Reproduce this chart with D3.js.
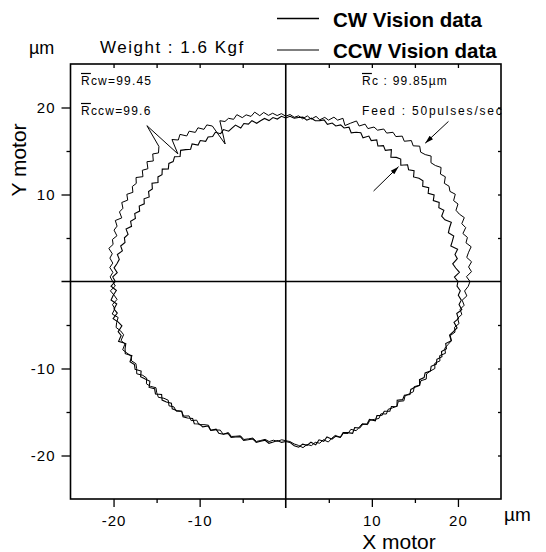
<!DOCTYPE html>
<html><head><meta charset="utf-8">
<script src="https://cdn.jsdelivr.net/npm/d3@7"></script>
<style>
body{margin:0;background:#fff}
svg{display:block}
text{font-family:"Liberation Sans",Arial,Helvetica,sans-serif;fill:#000}
</style>
</head><body>
<svg id="chart" width="546" height="552"></svg>
<script>
// ---------------- DATA ----------------
// radius samples (µm, deviation-scaled) read every 1.5° starting at +X axis, counter-clockwise
const angleStepDeg = 1.5;
const cwRadius = [
20.0,19.6,20.2,19.8,19.5,20.1,19.9,20.3,19.6,19.9,20.2,19.7,20.0,20.4,19.8,19.6,20.1,19.7,20.0,19.5,
19.9,19.4,19.8,19.3,19.7,19.5,19.1,19.6,19.2,19.5,18.9,19.4,19.2,18.8,19.5,19.0,19.3,18.9,19.4,19.0,
19.3,18.8,19.2,19.0,18.7,19.2,18.9,19.1,18.8,19.0,18.7,19.1,18.9,18.8,19.0,18.7,19.0,18.9,18.8,19.0,
18.8,19.0,18.7,18.9,18.6,18.9,18.7,18.5,18.9,18.6,18.8,18.4,18.9,18.7,18.5,18.9,18.6,19.0,18.7,18.9,
18.6,19.0,18.7,19.2,18.8,19.1,19.4,18.9,19.3,19.0,19.2,18.8,19.3,18.9,19.1,18.7,19.2,18.8,19.0,18.6,
19.0,18.7,19.1,18.8,19.2,18.9,19.3,19.0,19.5,19.1,19.4,19.2,19.6,19.3,19.8,19.5,19.7,20.0,19.6,20.1,
19.8,20.3,19.7,20.1,20.4,19.8,20.2,19.9,20.5,20.0,19.7,20.3,20.1,20.6,19.9,20.2,20.4,19.8,20.3,20.0,
20.2,19.7,20.1,19.8,19.5,20.0,19.6,19.9,19.4,19.8,19.6,19.3,19.7,19.5,19.2,19.6,19.4,19.1,19.5,19.2,
19.3,18.9,19.2,18.8,19.1,19.0,18.7,19.0,18.8,18.6,18.9,18.7,18.5,18.8,18.6,18.4,18.7,18.5,18.3,18.5,
18.4,18.5,18.9,19.1,18.8,19.0,18.7,19.1,18.6,18.9,18.5,18.9,18.7,19.0,18.6,18.8,19.1,18.6,18.9,18.7,
18.9,18.6,19.1,18.7,19.0,18.8,19.2,18.9,19.3,18.8,19.2,19.0,19.4,19.1,19.3,19.6,19.2,19.5,19.3,19.7,
19.5,19.9,19.7,20.1,19.8,20.2,19.9,20.4,20.0,20.3,20.6,20.1,20.5,20.2,20.7,20.3,20.5,20.1,20.3,19.9
];
const ccwRadius = [
21.4,21.0,21.6,21.3,21.7,21.2,21.5,21.9,21.4,21.7,21.3,21.8,21.5,22.0,21.6,21.4,21.9,21.6,22.1,21.7,
21.9,21.6,22.1,21.8,22.3,21.9,21.7,22.2,21.8,21.6,22.0,21.5,21.8,21.2,21.5,21.0,21.2,20.7,20.9,20.4,
20.5,20.0,20.3,19.8,20.2,19.7,19.2,19.9,19.5,19.7,19.2,19.4,19.0,19.3,18.9,19.2,18.8,19.1,18.9,19.2,
19.0,19.3,19.1,19.4,19.2,19.6,19.3,19.8,19.4,19.7,19.5,20.0,19.6,19.9,19.7,20.0,17.3,19.8,20.2,19.9,
20.4,20.1,20.6,20.3,20.9,20.5,21.0,19.3,24.1,21.4,20.9,21.3,20.7,21.2,20.6,21.0,20.5,21.1,20.7,20.9,
20.5,21.0,20.6,21.1,20.7,20.9,20.4,21.0,20.6,20.8,20.3,20.7,20.5,20.9,20.4,20.6,20.2,20.5,20.1,20.4,
20.1,19.8,20.4,20.0,19.7,20.3,20.1,20.5,19.9,20.2,20.4,20.0,19.8,20.3,20.0,20.5,20.2,19.9,20.1,19.8,
20.0,20.3,19.8,19.6,20.0,19.8,19.4,19.7,19.9,19.5,19.3,19.7,19.4,19.6,19.2,19.5,19.1,19.4,19.0,19.3,
19.0,18.8,19.2,18.9,18.7,19.0,18.6,18.9,18.7,18.5,18.8,18.6,18.4,18.7,18.5,18.3,18.5,18.3,18.4,18.2,
18.3,18.4,18.7,18.9,19.2,18.9,19.1,18.8,19.0,18.7,19.1,18.8,18.6,19.0,18.7,18.9,18.6,19.0,18.8,18.6,
19.0,18.7,18.9,19.1,18.8,19.2,18.9,19.1,19.3,19.0,19.4,19.1,19.3,19.5,19.2,19.6,19.4,19.8,19.5,19.7,
20.0,19.7,20.1,19.8,20.3,20.0,20.2,20.4,20.1,20.5,20.3,20.7,20.4,20.8,20.5,20.9,20.6,21.1,20.8,21.2
];
const xMajorTicks = [-20, -10, 10, 20];
const xMinorTicks = [-15, -5, 5, 15];
const yMajorTicks = [20, 10, -10, -20];
const yMinorTicks = [15, 5, -5, -15];
const legendLabels = ["CW Vision data", "CCW Vision data"];
const arrowNotes = [
  {from: [18.9, 18.4], to: [16.2, 15.9]},
  {from: [10.2, 10.4], to: [13.1, 13.2]}
];

// ---------------- CHART ----------------
const svg = d3.select("#chart");
const L = 70.5, R = 501, T = 64, B = 499;
const x = d3.scaleLinear().domain([-25, 25]).range([L, R]);
const y = d3.scaleLinear().domain([-25, 25]).range([B, T]);

function toXY(radii) {
  const pts = radii.map((r, i) => {
    const a = i * angleStepDeg * Math.PI / 180;
    return [r * Math.cos(a), r * Math.sin(a)];
  });
  pts.push(pts[0]);
  return pts;
}
const line = d3.line().x(d => x(d[0])).y(d => y(d[1]));

// axes
const fmt = d => String(d);
const bottomMaj = d3.axisBottom(x).tickValues(xMajorTicks).tickSize(8).tickPadding(8).tickFormat(fmt);
const bottomMin = d3.axisBottom(x).tickValues(xMinorTicks).tickSize(4).tickFormat("");
const leftMaj = d3.axisLeft(y).tickValues(yMajorTicks).tickSize(9).tickPadding(6).tickFormat(fmt);
const leftMin = d3.axisLeft(y).tickValues(yMinorTicks).tickSize(4).tickFormat("");
const topAll = d3.axisTop(x).tickValues(xMajorTicks.concat(xMinorTicks)).tickSize(-4).tickFormat("");
const rightAll = d3.axisRight(y).tickValues(yMajorTicks.concat(yMinorTicks)).tickSize(-3).tickFormat("");

function styleAxis(g) {
  g.select(".domain").remove();
  g.selectAll(".tick line").attr("stroke", "#000").attr("stroke-width", 1.3);
  g.selectAll(".tick text").attr("font-size", 15).attr("letter-spacing", "1px")
    .attr("font-family", '"Liberation Sans",Arial,sans-serif').attr("fill", "#000");
}
svg.append("g").attr("transform", `translate(0,${B})`).call(bottomMaj).call(styleAxis);
svg.append("g").attr("transform", `translate(0,${B})`).call(bottomMin).call(styleAxis);
svg.append("g").attr("transform", `translate(${L},0)`).call(leftMaj).call(styleAxis);
svg.append("g").attr("transform", `translate(${L},0)`).call(leftMin).call(styleAxis);
svg.append("g").attr("transform", `translate(0,${T})`).call(topAll).call(styleAxis);
svg.append("g").attr("transform", `translate(${R},0)`).call(rightAll).call(styleAxis);

// frame
svg.append("rect").attr("x", L).attr("y", T).attr("width", R - L).attr("height", B - T)
  .attr("fill", "none").attr("stroke", "#000").attr("stroke-width", 1.6);

// zero lines
svg.append("line").attr("x1", x(0)).attr("x2", x(0)).attr("y1", T).attr("y2", B + 9)
  .attr("stroke", "#000").attr("stroke-width", 1.6);
svg.append("line").attr("x1", L - 9).attr("x2", R).attr("y1", y(0)).attr("y2", y(0))
  .attr("stroke", "#000").attr("stroke-width", 1.6);

// data curves
svg.append("path").datum(toXY(ccwRadius)).attr("d", line)
  .attr("fill", "none").attr("stroke", "#000").attr("stroke-width", 1).attr("stroke-linejoin", "miter");
svg.append("path").datum(toXY(cwRadius)).attr("d", line)
  .attr("fill", "none").attr("stroke", "#000").attr("stroke-width", 1.1).attr("stroke-linejoin", "miter");

// arrows
const defs = svg.append("defs");
defs.append("marker").attr("id", "ah").attr("viewBox", "0 0 10 6").attr("refX", 10).attr("refY", 3)
  .attr("markerWidth", 10).attr("markerHeight", 5).attr("markerUnits", "userSpaceOnUse").attr("orient", "auto")
  .append("path").attr("d", "M0,0 L10,3 L0,6 Z").attr("fill", "#000");
svg.selectAll(".arrow").data(arrowNotes).join("line").attr("class", "arrow")
  .attr("x1", d => x(d.from[0])).attr("y1", d => y(d.from[1]))
  .attr("x2", d => x(d.to[0])).attr("y2", d => y(d.to[1]))
  .attr("stroke", "#000").attr("stroke-width", 1).attr("marker-end", "url(#ah)");

// axis titles & units
svg.append("text").attr("x", 399).attr("y", 549).attr("text-anchor", "middle").attr("font-size", 21).text("X motor");
svg.append("text").attr("transform", "translate(26,160) rotate(-90)").attr("text-anchor", "middle").attr("font-size", 21).text("Y motor");
svg.append("text").attr("x", 29).attr("y", 54).attr("font-size", 18).text("µm");
svg.append("text").attr("x", 504).attr("y", 521).attr("font-size", 19).text("µm");
svg.append("text").attr("x", 100).attr("y", 53).attr("font-size", 17).attr("letter-spacing", "1.5px").text("Weight : 1.6 Kgf");

// legend
legendLabels.forEach((lab, i) => {
  const ly = i === 0 ? 18.5 : 50;
  svg.append("line").attr("x1", 277).attr("x2", 319).attr("y1", ly).attr("y2", ly)
    .attr("stroke", "#000").attr("stroke-width", i === 0 ? 1.5 : 1.2);
  svg.append("text").attr("x", 333).attr("y", ly + 8).attr("font-size", 20.5).attr("font-weight", "bold").text(lab);
});

// annotations with overbar R
function barText(xp, yp, rest) {
  const t = svg.append("text").attr("x", xp).attr("y", yp).attr("font-size", 12).attr("letter-spacing", "1.2px");
  t.append("tspan").text("R");
  t.append("tspan").text(rest);
  const w = t.node().getSubStringLength(0, 1);
  svg.append("line").attr("x1", xp).attr("x2", xp + w).attr("y1", yp - 11.5).attr("y2", yp - 11.5)
    .attr("stroke", "#000").attr("stroke-width", 1.2);
}
barText(81, 85, "cw=99.45");
barText(81, 115, "ccw=99.6");
barText(362, 85, "c : 99.85µm");
svg.append("text").attr("x", 362).attr("y", 115).attr("font-size", 12).attr("letter-spacing", "1.8px").text("Feed : 50pulses/sec");
</script>
</body></html>
